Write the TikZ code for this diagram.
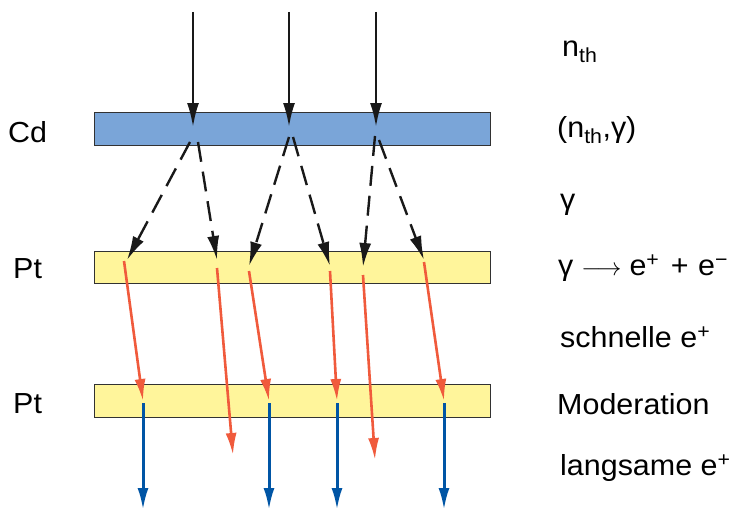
\documentclass[tikz,border=0pt]{standalone}
\usepackage{fontspec}
\setmainfont{Liberation Sans}[FakeStretch=1.05]
\usetikzlibrary{arrows.meta}
\definecolor{cdblue}{RGB}{122,165,216}
\definecolor{ptyellow}{RGB}{255,245,155}
\definecolor{redarr}{RGB}{240,90,60}
\definecolor{bluearr}{RGB}{0,85,165}
\definecolor{framec}{RGB}{50,50,50}
\begin{document}
\begin{tikzpicture}[x=1pt,y=-1pt,
  bar/.style={draw=framec,line width=1pt},
  lbl/.style={font=\fontsize{29}{32}\selectfont,anchor=west,inner sep=0pt},
  blk/.style={draw=black!90,line width=2.4pt,-{Latex[length=24pt,width=12pt]}},
  dsh/.style={blk,dash pattern=on 20pt off 10pt},
  red/.style={draw=redarr,line width=2.6pt,-{Latex[length=22pt,width=11pt]}},
  blu/.style={draw=bluearr,line width=3pt,-{Latex[length=22pt,width=11pt]}}]
\useasboundingbox (0,0) rectangle (734,511);
% bars
\fill[cdblue,bar] (94,112) rectangle (490,145);
\fill[ptyellow,bar] (94,251) rectangle (490,283);
\fill[ptyellow,bar] (94,384) rectangle (490,417);
% coordinates
\foreach \n/\x/\y in {t1/193/12,t2/289/12,t3/376/12,
  h1/193/127,h2/289/127,h3/376/127,
  s1/190/142,s2/198/142,s3/289/137,s4/293/137,s5/375/136,s6/379/140,
  e1/127/260,e2/217/260,e3/249/266,e4/330/266,e5/363/267,e6/424/260,
  r1/124/261,r2/217/268,r3/249/271,r4/330/271,r5/363/275,r6/424/262,
  f1/143/401,f2/233/455,f3/269/401,f4/337/401,f5/375/460,f6/444/401,
  b1/143/403,b3/269/403,b4/337/403,b6/444/403,
  c1/143/510,c3/269/510,c4/337/510,c6/444/510}
  {\coordinate (\n) at (\x,\y);}
% black incoming neutrons
\foreach \i in {1,2,3} \draw[blk] (t\i) -- (h\i);
% dashed gammas
\foreach \i in {1,...,6} \draw[dsh] (s\i) -- (e\i);
% fast positrons
\foreach \i in {1,...,6} \draw[red] (r\i) -- (f\i);
% slow positrons
\foreach \i in {1,3,4,6} \draw[blu] (b\i) -- (c\i);
% left labels
\node[lbl] (lcd) at (8,132) {Cd};
\node[lbl] (lpt1) at (13,269) {Pt};
\node[lbl] (lpt2) at (13,404) {Pt};
% right labels
\node[lbl] (n1) at (562,52) {n\textsubscript{th}};
\node[lbl] (n2) at (557,130) {(n\textsubscript{th},γ)};
\node[lbl] (n3) at (560,205) {γ};
\node[lbl] (n4) at (558,268) {γ\hspace{8pt}$\longrightarrow$\hspace{8pt}e\textsuperscript{+}\hspace{3pt} + \hspace{1pt}e\textsuperscript{−}};
\node[lbl] (n5) at (560,337) {schnelle e\textsuperscript{+}};
\node[lbl] (n6) at (557,404) {Moderation};
\node[lbl] (n7) at (560,468) {langsame e\textsuperscript{+}};
\end{tikzpicture}
\end{document}
